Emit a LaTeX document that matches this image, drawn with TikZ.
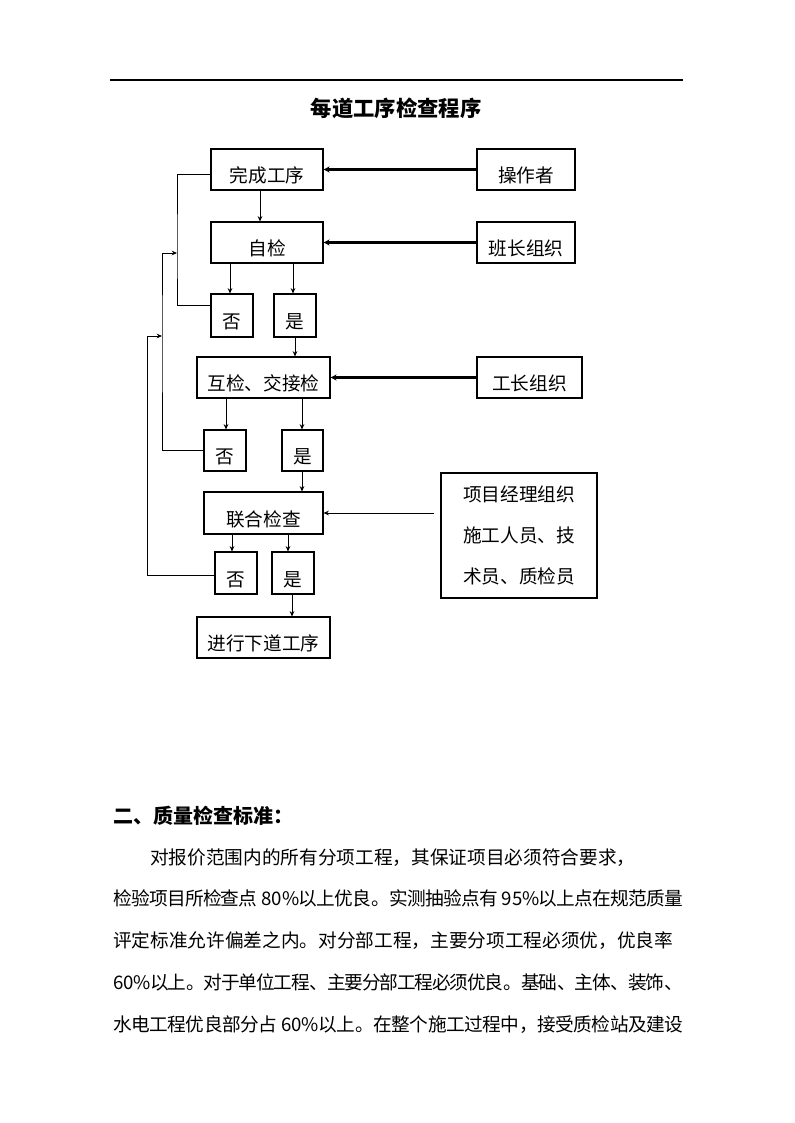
\documentclass[tikz,border=0pt]{standalone}
\usepackage{fontspec}
\setmainfont{Noto Sans CJK SC}
\usetikzlibrary{arrows.meta}
\XeTeXlinebreaklocale "zh"
\XeTeXlinebreakskip=0pt plus 3pt minus 4pt
\def\pxu{0.75pt}
\begin{document}
\begin{tikzpicture}[x=0.75pt,y=-0.75pt,
  box/.style={draw, line width=0.8pt, inner sep=0pt, font=\fontsize{14pt}{16pt}\selectfont, text height=19.5pt, text depth=0pt},
  tallbox/.style={draw, line width=0.8pt, inner sep=0pt, align=center, font=\fontsize{14pt}{31pt}\selectfont},
  arr/.style={-{Stealth[length=4pt,width=3.5pt]}, line width=0.7pt},
  link/.style={line width=0.7pt},
  heavy/.style={line width=1.6pt, -{Stealth[length=4.5pt,width=4.5pt]}},
  bodyline/.style={anchor=base west, inner sep=0pt, font=\fontsize{14pt}{16pt}\selectfont},
  fullline/.style={bodyline, text width=427.5pt, align=justify},
]
\useasboundingbox (0,0) rectangle (794,1123);
\draw[line width=0.8pt] (110,80) -- (683,80);
\node[anchor=base, inner sep=0pt, font=\bfseries\fontsize{16pt}{18pt}\selectfont] (title) at (396,117) {每道工序检查程序};

% boxes
\node[box, minimum width=112*\pxu, minimum height=41*\pxu] (wc) at (267,169.5) {完成工序};
\node[box, minimum width=98*\pxu, minimum height=41*\pxu] (op) at (526,169.5) {操作者};
\node[box, minimum width=112*\pxu, minimum height=41*\pxu] (zj) at (267,242.5) {自检};
\node[box, minimum width=98*\pxu, minimum height=41*\pxu] (bz) at (526,242.5) {班长组织};
\node[box, minimum width=42*\pxu, minimum height=43*\pxu] (no1) at (232,315.5) {否};
\node[box, minimum width=42*\pxu, minimum height=43*\pxu] (ye1) at (295,315.5) {是};
\node[box, minimum width=133*\pxu, minimum height=41*\pxu] (hj) at (263.5,377.5) {互检、交接检};
\node[box, minimum width=105*\pxu, minimum height=41*\pxu] (gz) at (529.5,377.5) {工长组织};
\node[box, minimum width=42*\pxu, minimum height=41*\pxu] (no2) at (225,450.5) {否};
\node[box, minimum width=41*\pxu, minimum height=41*\pxu] (ye2) at (302.5,450.5) {是};
\node[box, minimum width=119*\pxu, minimum height=42*\pxu] (lh) at (263.5,513) {联合检查};
\node[tallbox, minimum width=156*\pxu, minimum height=125*\pxu] (pm) at (519,535.5) {项目经理组织\\施工人员、技\\术员、质检员};
\node[box, minimum width=42*\pxu, minimum height=42*\pxu] (no3) at (236,573) {否};
\node[box, minimum width=42*\pxu, minimum height=42*\pxu] (ye3) at (293,573) {是};
\node[box, minimum width=133*\pxu, minimum height=41*\pxu] (nx) at (263.5,637.5) {进行下道工序};

% junctions of the return lines
\coordinate (k1) at (177,253);
\coordinate (k2) at (162,336);
\coordinate (k3) at (147,575);

% vertical arrows
\draw[arr] ([xshift=-7*\pxu]wc.south) -- ([xshift=-7*\pxu]zj.north);
\draw[arr] ([xshift=-37*\pxu]zj.south) -- ([xshift=-2*\pxu]no1.north);
\draw[arr] ([xshift=26*\pxu]zj.south) -- ([xshift=-2*\pxu]ye1.north);
\draw[arr] (ye1.south) -- ([xshift=31.5*\pxu]hj.north);
\draw[arr] ([xshift=-37.5*\pxu]hj.south) -- ([xshift=1*\pxu]no2.north);
\draw[arr] ([xshift=38.5*\pxu]hj.south) -- ([xshift=-0.5*\pxu]ye2.north);
\draw[arr] ([xshift=-0.5*\pxu]ye2.south) -- ([xshift=38.5*\pxu]lh.north);
\draw[arr] ([xshift=-31.5*\pxu]lh.south) -- ([xshift=-4*\pxu]no3.north);
\draw[arr] ([xshift=24.5*\pxu]lh.south) -- ([xshift=-5*\pxu]ye3.north);
\draw[arr] ([xshift=-1*\pxu]ye3.south) -- ([xshift=28.5*\pxu]nx.north);

% horizontal links from the right
\draw[heavy] (op.west) -- (wc.east);
\draw[heavy] (bz.west) -- (zj.east);
\draw[heavy] (gz.west) -- (hj.east);
\draw[arr] ([xshift=-6*\pxu]pm.west |- lh.east) -- (lh.east);

% return lines
\draw[link] ([yshift=10.5*\pxu]no1.west) -| (k1) |- ([yshift=-4.5*\pxu]wc.west);
\draw[arr] (no2.west) -| (k2) |- (k1);
\draw[arr] ([yshift=-2*\pxu]no3.west) -- (k3) |- (k2);

% text below
\node[anchor=base west, inner sep=0pt, font=\bfseries\fontsize{15pt}{17pt}\selectfont] (h2) at (113,823.5) {二、质量检查标准：};
\node[bodyline] (t1) at (150,864.5) {对报价范围内的所有分项工程，其保证项目必须符合要求，};
\node[fullline] (t2) at (113,905.5) {\parfillskip=0pt\relax 检验项目所检查点 80\%以上优良。实测抽验点有 95\%以上点在规范质量};
\node[fullline] (t3) at (113,947) {\parfillskip=0pt\relax 评定标准允许偏差之内。对分部工程，主要分项工程必须优，优良率};
\node[fullline] (t4) at (113,989) {\parfillskip=0pt\relax 60\%以上。对于单位工程、主要分部工程必须优良。基础、主体、装饰、};
\node[fullline] (t5) at (113,1031) {\parfillskip=0pt\relax 水电工程优良部分占 60\%以上。在整个施工过程中，接受质检站及建设};
\end{tikzpicture}
\end{document}
